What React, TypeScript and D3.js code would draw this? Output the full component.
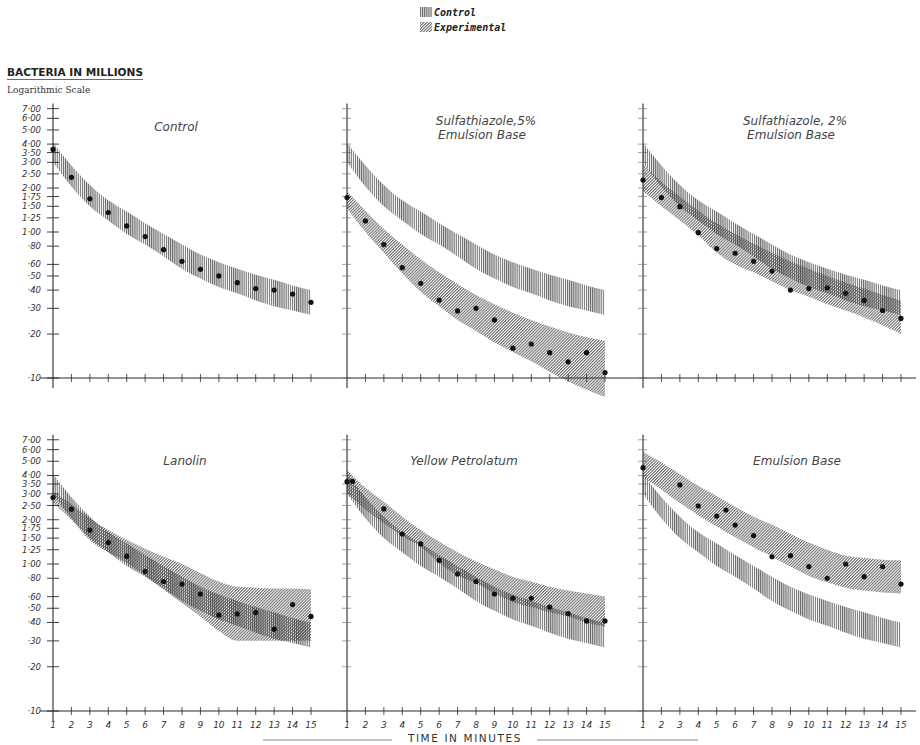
import React from "react";
import * as d3 from "d3";

// ---------- data ----------
const minutes = [1, 2, 3, 4, 5, 6, 7, 8, 9, 10, 11, 12, 13, 14, 15];

const yTickValues = [7, 6, 5, 4, 3.5, 3, 2.5, 2, 1.75, 1.5, 1.25, 1, 0.8, 0.6, 0.5, 0.4, 0.3, 0.2, 0.1];
const yTickLabels = ["7·00", "6·00", "5·00", "4·00", "3·50", "3·00", "2·50", "2·00", "1·75", "1·50", "1·25", "1·00", "·80", "·60", "·50", "·40", "·30", "·20", "·10"];

// control band (same in every panel)
const controlUpper = [4.1, 2.85, 2.1, 1.65, 1.38, 1.15, 0.97, 0.82, 0.7, 0.62, 0.56, 0.51, 0.47, 0.43, 0.4];
const controlLower = [3.0, 2.05, 1.5, 1.2, 0.97, 0.82, 0.68, 0.56, 0.48, 0.42, 0.38, 0.34, 0.31, 0.29, 0.27];
const controlDots = [3.68, 2.37, 1.69, 1.36, 1.1, 0.93, 0.757, 0.63, 0.555, 0.5, 0.45, 0.41, 0.4, 0.376, 0.33];

const sulfa5Upper = [1.9, 1.4, 1.05, 0.82, 0.65, 0.53, 0.44, 0.37, 0.32, 0.28, 0.25, 0.225, 0.205, 0.19, 0.18];
const sulfa5Lower = [1.45, 1.0, 0.72, 0.52, 0.39, 0.31, 0.25, 0.21, 0.175, 0.15, 0.13, 0.11, 0.095, 0.083, 0.074];
const sulfa5Dots = [1.72, 1.19, 0.82, 0.57, 0.445, 0.342, 0.288, 0.3, 0.25, 0.16, 0.171, 0.149, 0.129, 0.149, 0.109];

const sulfa2Upper = [2.95, 2.2, 1.75, 1.4, 1.15, 0.97, 0.83, 0.72, 0.63, 0.56, 0.5, 0.45, 0.41, 0.37, 0.34];
const sulfa2Lower = [1.9, 1.5, 1.2, 0.95, 0.72, 0.6, 0.53, 0.46, 0.4, 0.36, 0.32, 0.29, 0.26, 0.23, 0.2];
const sulfa2Dots = [2.27, 1.72, 1.49, 0.99, 0.77, 0.715, 0.63, 0.54, 0.4, 0.41, 0.415, 0.38, 0.34, 0.29, 0.256];

const lanolinUpper = [3.1, 2.55, 2.05, 1.7, 1.46, 1.27, 1.12, 1.0, 0.87, 0.76, 0.7, 0.69, 0.68, 0.68, 0.67];
const lanolinLower = [2.6, 2.0, 1.45, 1.2, 1.02, 0.83, 0.67, 0.54, 0.44, 0.35, 0.3, 0.3, 0.3, 0.3, 0.3];
const lanolinDots = [2.83, 2.36, 1.7, 1.4, 1.13, 0.89, 0.76, 0.73, 0.625, 0.45, 0.457, 0.467, 0.36, 0.53, 0.44];

const petrolatumUpper = [4.36, 3.3, 2.65, 2.1, 1.7, 1.42, 1.2, 1.04, 0.92, 0.82, 0.76, 0.7, 0.66, 0.63, 0.6];
const petrolatumLower = [3.03, 2.35, 1.89, 1.55, 1.31, 1.02, 0.84, 0.74, 0.63, 0.55, 0.51, 0.47, 0.44, 0.4, 0.375];
const petrolatumDotMinutes = [1, 1.3, 3, 4, 5, 6, 7, 8, 9, 10, 11, 12, 13, 14, 15];
const petrolatumDots = [3.63, 3.65, 2.37, 1.6, 1.37, 1.06, 0.855, 0.76, 0.625, 0.585, 0.585, 0.51, 0.46, 0.41, 0.41];

const emulsionUpper = [5.8, 4.9, 4.1, 3.4, 2.9, 2.45, 2.1, 1.85, 1.6, 1.4, 1.25, 1.14, 1.1, 1.07, 1.06];
const emulsionLower = [3.9, 3.2, 2.6, 2.15, 1.8, 1.52, 1.3, 1.12, 0.96, 0.83, 0.75, 0.69, 0.66, 0.64, 0.63];
const emulsionDotMinutes = [1, 3, 4, 5, 5.5, 6, 7, 8, 9, 10, 11, 12, 13, 14, 15];
const emulsionDots = [4.52, 3.45, 2.48, 2.12, 2.33, 1.84, 1.56, 1.12, 1.14, 0.96, 0.8, 1.0, 0.82, 0.96, 0.73];

const panelTitles = [
  ["Control"],
  ["Sulfathiazole,5%", "Emulsion Base"],
  ["Sulfathiazole, 2%", "Emulsion Base"],
  ["Lanolin"],
  ["Yellow Petrolatum"],
  ["Emulsion Base"],
];

type Panel = {
  title: string[];
  row: number;
  col: number;
  expUpper?: number[];
  expLower?: number[];
  dotX: number[];
  dotY: number[];
};

const panels: Panel[] = [
  { title: panelTitles[0], row: 0, col: 0, dotX: minutes, dotY: controlDots },
  { title: panelTitles[1], row: 0, col: 1, expUpper: sulfa5Upper, expLower: sulfa5Lower, dotX: minutes, dotY: sulfa5Dots },
  { title: panelTitles[2], row: 0, col: 2, expUpper: sulfa2Upper, expLower: sulfa2Lower, dotX: minutes, dotY: sulfa2Dots },
  { title: panelTitles[3], row: 1, col: 0, expUpper: lanolinUpper, expLower: lanolinLower, dotX: minutes, dotY: lanolinDots },
  { title: panelTitles[4], row: 1, col: 1, expUpper: petrolatumUpper, expLower: petrolatumLower, dotX: petrolatumDotMinutes, dotY: petrolatumDots },
  { title: panelTitles[5], row: 1, col: 2, expUpper: emulsionUpper, expLower: emulsionLower, dotX: emulsionDotMinutes, dotY: emulsionDots },
];

// ---------- layout ----------
const W = 920;
const H = 745;
const colX0 = [53, 347, 643];
const panelW = 258;
const rowBase = [378, 711];
const decade = [146, 147];
const titleCx = [[176, 486, 795], [185, 464, 797]];
const titleBase = [[131, 125, 125], [465, 465, 465]];

const ink = "#2a2a2a";
const handFont = "'DejaVu Sans', 'Liberation Sans', sans-serif";

function App() {
  const makeY = (row: number) =>
    d3.scaleLog().domain([0.1, 1]).range([rowBase[row], rowBase[row] - decade[row]]);
  const makeX = (col: number) =>
    d3.scaleLinear().domain([1, 15]).range([colX0[col], colX0[col] + panelW]);

  return (
    <svg width={W} height={H} style={{ position: "absolute", left: 0, top: 0, background: "#fff" }}>
      <defs>
        <pattern id="vhatch" width="2.1" height="4" patternUnits="userSpaceOnUse">
          <line x1="0.6" y1="0" x2="0.6" y2="4" stroke="#333" strokeWidth="0.85" />
        </pattern>
        <pattern id="dhatch" width="2.1" height="4" patternUnits="userSpaceOnUse" patternTransform="rotate(45)">
          <line x1="0.6" y1="0" x2="0.6" y2="4" stroke="#383838" strokeWidth="0.8" />
        </pattern>
      </defs>

      {/* legend */}
      <g>
        <rect x={420} y={7} width={12} height={10} fill="url(#vhatch)" />
        <text x={434} y={16} fontFamily="'DejaVu Sans Mono', monospace" fontStyle="italic" fontWeight="bold" fontSize={10} fill="#222">Control</text>
        <rect x={420} y={22} width={12} height={10} fill="url(#dhatch)" />
        <text x={434} y={31} fontFamily="'DejaVu Sans Mono', monospace" fontStyle="italic" fontWeight="bold" fontSize={10} fill="#222">Experimental</text>
      </g>

      {/* y title */}
      <text x={7} y={76} fontFamily={handFont} fontSize={10.5} fontWeight="bold" fill="#222" textLength={136} lengthAdjust="spacingAndGlyphs">BACTERIA IN MILLIONS</text>
      <line x1={7} y1={79.5} x2={143} y2={79.5} stroke="#444" strokeWidth={0.8} />
      <text x={7} y={93} fontFamily="'DejaVu Serif', serif" fontSize={9} fill="#333">Logarithmic Scale</text>

      {/* horizontal axis lines */}
      {rowBase.map((yb, r) => (
        <line key={"hx" + r} x1={40} x2={916} y1={yb} y2={yb} stroke={ink} strokeWidth={1.1} />
      ))}

      {panels.map((p, i) => {
        const x = makeX(p.col);
        const y = makeY(p.row);
        const ctrlPath = d3
          .area<number>()
          .x((_, k) => x(minutes[k]))
          .y0((_, k) => y(controlLower[k]))
          .y1((_, k) => y(controlUpper[k]))
          .curve(d3.curveMonotoneX)(minutes);
        let expPath: string | null = null;
        if (p.expUpper && p.expLower) {
          const eu = p.expUpper;
          const el = p.expLower;
          expPath = d3
            .area<number>()
            .x((_, k) => x(minutes[k]))
            .y0((_, k) => y(el[k]))
            .y1((_, k) => y(eu[k]))
            .curve(d3.curveMonotoneX)(minutes);
        }
        const x0 = colX0[p.col];
        const yTop = y(7) - 5;
        const yBot = rowBase[p.row] + 10;
        return (
          <g key={i}>
            {/* y axis */}
            <line x1={x0} x2={x0} y1={yTop} y2={yBot} stroke={ink} strokeWidth={1.1} />
            {yTickValues.map((v, k) => (
              <line
                key={"yt" + k}
                x1={x0 - (p.col === 0 ? 6 : 5)}
                x2={x0 + (p.col === 0 ? 6 : 4)}
                y1={y(v)}
                y2={y(v)}
                stroke={p.col === 0 ? ink : "#666"}
                strokeWidth={p.col === 0 ? 0.9 : 0.6}
              />
            ))}
            {p.col === 0 &&
              yTickLabels.map((t, k) => (
                <text
                  key={"yl" + k}
                  x={41}
                  y={y(yTickValues[k]) + 3}
                  textAnchor="end"
                  fontFamily={handFont}
                  fontStyle="italic"
                  fontSize={8.5}
                  fill="#333"
                >
                  {t}
                </text>
              ))}
            {/* x ticks */}
            {minutes.slice(1).map((m) => (
              <line key={"xt" + m} x1={x(m)} x2={x(m)} y1={rowBase[p.row] - 4} y2={rowBase[p.row] + 4} stroke={ink} strokeWidth={0.8} />
            ))}
            {p.row === 1 &&
              minutes.map((m) => (
                <text key={"xl" + m} x={x(m)} y={728} textAnchor="middle" fontFamily={handFont} fontStyle="italic" fontSize={9} fill="#333">
                  {m}
                </text>
              ))}
            {/* bands */}
            <path d={ctrlPath || ""} fill="url(#vhatch)" />
            {expPath && <path d={expPath} fill="url(#dhatch)" />}
            {/* dots */}
            {p.dotY.map((v, k) => (
              <circle key={"d" + k} cx={x(p.dotX[k])} cy={y(v)} r={2.6} fill="#111" />
            ))}
            {/* title */}
            {p.title.map((t, k) => (
              <text
                key={"t" + k}
                x={titleCx[p.row][p.col] - (k === 1 ? 4 : 0)}
                y={titleBase[p.row][p.col] + k * 14}
                textAnchor="middle"
                fontFamily={handFont}
                fontStyle="italic"
                fontSize={12}
                fill="#444"
              >
                {t}
              </text>
            ))}
          </g>
        );
      })}

      {/* x axis title */}
      <line x1={263} x2={392} y1={740} y2={740} stroke="#555" strokeWidth={0.7} />
      <text x={465} y={742} textAnchor="middle" fontFamily={handFont} fontSize={10.5} fill="#333" letterSpacing={1.6}>
        TIME IN MINUTES
      </text>
      <line x1={537} x2={698} y1={740} y2={740} stroke="#555" strokeWidth={0.7} />
    </svg>
  );
}

export default App;
